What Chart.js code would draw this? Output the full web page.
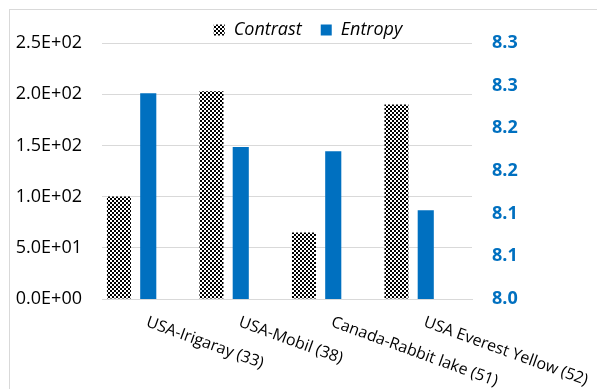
<!DOCTYPE html>
<html>
<head>
<meta charset="utf-8">
<script src="https://cdn.jsdelivr.net/npm/chart.js@4/dist/chart.umd.min.js"></script>
<style>
  html, body { margin: 0; padding: 0; background: #ffffff; }
  #chart { display: block; }
</style>
</head>
<body>
<canvas id="chart" width="597" height="389"></canvas>
<script>
// Deposit sites shown along the horizontal axis
const categories = ['USA-Irigaray (33)', 'USA-Mobil (38)', 'Canada-Rabbit lake (51)', 'USA Everest Yellow (52)'];
// Texture measures per site
const contrastValues = [100, 203, 65, 190];
const entropyValues = [8.241, 8.178, 8.173, 8.104];
// Empty slot that keeps the Contrast bar left of the category centre
const gapValues = [null, null, null, null];

// Axis ranges and tick steps
const contrastTicks = { min: 0, max: 250, step: 50 };
const entropyTicks = { min: 8.0, max: 8.3, step: 0.05 };

const BLUE = '#0070C0';
const GRID = '#d9d9d9';
const FONT = "'Open Sans', 'Noto Sans', sans-serif";

// Small black/white checkerboard fill for the Contrast series
function checkerPattern() {
  const tile = document.createElement('canvas');
  tile.width = 4; tile.height = 4;
  const t = tile.getContext('2d');
  t.fillStyle = '#ffffff';
  t.fillRect(0, 0, 4, 4);
  t.fillStyle = '#000000';
  t.fillRect(0, 0, 2, 2);
  t.fillRect(2, 2, 2, 2);
  return document.getElementById('chart').getContext('2d').createPattern(tile, 'repeat');
}

// 2.5E+02 style labels
function sciLabel(v) {
  if (v === 0) return '0.0E+00';
  const e = Math.floor(Math.log10(Math.abs(v)) + 1e-9);
  const m = v / Math.pow(10, e);
  return m.toFixed(1) + 'E' + (e < 0 ? '-' : '+') + String(Math.abs(e)).padStart(2, '0');
}

// Outer frame of the chart box
const framePlugin = {
  id: 'frame',
  beforeDraw(chart) {
    const ctx = chart.ctx;
    ctx.save();
    ctx.fillStyle = '#ffffff';
    ctx.fillRect(0, 0, chart.width, chart.height);
    ctx.strokeStyle = GRID;
    ctx.lineWidth = 1;
    ctx.strokeRect(9.5, 9.5, chart.width + 20, chart.height + 20);
    ctx.restore();
  }
};

// Category labels slanted downwards, starting at each category centre
const slantedLabels = {
  id: 'slantedLabels',
  afterDraw(chart) {
    const ctx = chart.ctx;
    const xs = chart.scales.x;
    const base = chart.chartArea.bottom;
    ctx.save();
    ctx.font = '16px ' + FONT;
    ctx.fillStyle = '#000000';
    ctx.textAlign = 'left';
    ctx.textBaseline = 'alphabetic';
    categories.forEach((label, i) => {
      const px = xs.getPixelForTick(i);
      ctx.save();
      ctx.translate(px - 3, base + 27);
      ctx.rotate(20 * Math.PI / 180);
      ctx.fillText(label, 0, 0);
      ctx.restore();
    });
    ctx.restore();
  }
};

const checker = checkerPattern();

new Chart(document.getElementById('chart'), {
  type: 'bar',
  data: {
    labels: categories,
    datasets: [
      {
        label: 'Contrast',
        data: contrastValues,
        yAxisID: 'y',
        backgroundColor: checker,
        borderColor: 'rgba(0,0,0,0)',
        borderWidth: 0,
        categoryPercentage: 0.95,
        barPercentage: 0.82
      },
      {
        label: 'Entropy',
        data: entropyValues,
        yAxisID: 'y2',
        backgroundColor: BLUE,
        borderColor: 'rgba(0,0,0,0)',
        borderWidth: 0,
        categoryPercentage: 0.95,
        barPercentage: 0.55
      },
      {
        label: '',
        data: gapValues,
        yAxisID: 'y',
        backgroundColor: 'rgba(0,0,0,0)',
        borderWidth: 0,
        categoryPercentage: 0.95,
        barPercentage: 0.55
      }
    ]
  },
  options: {
    responsive: false,
    animation: false,
    devicePixelRatio: 1,
    layout: { padding: { left: 0, right: -19, top: 2, bottom: 0 } },
    plugins: {
      tooltip: { enabled: false },
      legend: {
        position: 'top',
        maxHeight: 41,
        labels: {
          filter: (item) => item.text !== '',
          boxWidth: 11,
          boxHeight: 11,
          padding: 19,
          color: '#000000',
          font: { family: FONT, size: 18, style: 'italic' }
        }
      }
    },
    scales: {
      x: {
        type: 'category',
        grid: { display: false },
        border: { display: true, color: GRID, width: 1 },
        ticks: { display: false },
        afterFit(scale) { scale.height = 90; }
      },
      y: {
        position: 'left',
        min: contrastTicks.min,
        max: contrastTicks.max,
        grid: { color: GRID, drawTicks: false, lineWidth: 1 },
        border: { display: false },
        ticks: {
          stepSize: contrastTicks.step,
          padding: 20,
          color: '#000000',
          font: { family: FONT, size: 18 },
          callback: (v) => sciLabel(v)
        },
        afterFit(scale) { scale.width = 102; }
      },
      y2: {
        position: 'right',
        min: entropyTicks.min,
        max: entropyTicks.max,
        grid: { display: false, drawTicks: false },
        border: { display: false },
        ticks: {
          stepSize: entropyTicks.step,
          padding: 20,
          color: BLUE,
          font: { family: FONT, size: 18, weight: 'bold' },
          callback: (v) => Number(v).toFixed(1)
        },
        afterFit(scale) { scale.width = 144; }
      }
    }
  },
  plugins: [framePlugin, slantedLabels]
});
</script>
</body>
</html>
